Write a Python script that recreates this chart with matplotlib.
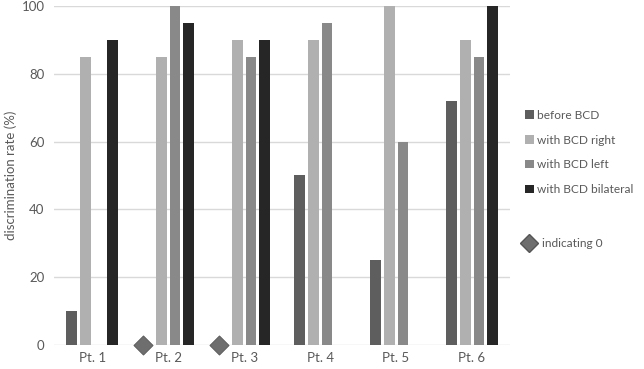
import matplotlib
matplotlib.use("Agg")
import matplotlib.pyplot as plt
from matplotlib.lines import Line2D
from matplotlib.patches import Patch
import numpy as np

plt.rcParams["font.family"] = ["Lato", "DejaVu Sans"]

patients = ["Pt. 1", "Pt. 2", "Pt. 3", "Pt. 4", "Pt. 5", "Pt. 6"]
series_names = ["before BCD", "with BCD right", "with BCD left", "with BCD bilateral"]
before = [10, 0, 0, 50, 25, 72]
right = [85, 85, 90, 90, 100, 90]
left = [np.nan, 100, 85, 95, 60, 85]
bilateral = [90, 95, 90, np.nan, np.nan, 100]
zero_flags = [False, True, True, False, False, False]  # before BCD measured as 0

colors = ["#5e5e5e", "#b0b0b0", "#898989", "#262626"]
text_color = "#595959"

fig = plt.figure(figsize=(6.44, 3.69), dpi=100)
ax = fig.add_axes([0.084, 0.065, 0.708, 0.919])

x = np.arange(len(patients))
slot = 0.18
width = 0.14
for i, (vals, c) in enumerate(zip([before, right, left, bilateral], colors)):
    vals = np.array(vals, dtype=float)
    shown = np.where(np.array(zero_flags) & (i == 0), np.nan, vals)
    ax.bar(x + (i - 1.5) * slot, shown, width=width, color=c, zorder=3)

zx = x[np.array(zero_flags)] + (-1.5 * slot - 0.06)
ax.scatter(zx, np.zeros(len(zx)), marker="D", s=95, color="#6e6e6e",
           edgecolors="#555555", linewidths=0.6, zorder=4, clip_on=False)

ax.set_xlim(-0.5, len(patients) - 0.5)
ax.set_ylim(0, 100)
ax.set_yticks([0, 20, 40, 60, 80, 100])
ax.set_xticks(x)
ax.set_xticklabels(patients)
ax.yaxis.grid(True, color="#d9d9d9", linewidth=1, zorder=0)
ax.set_axisbelow(True)
for s in ax.spines.values():
    s.set_visible(False)
ax.tick_params(axis="both", length=0, colors=text_color, labelsize=9.5)
ax.tick_params(axis="x", pad=5)
ax.tick_params(axis="y", pad=7)
ax.set_ylabel("discrimination rate (%)", color=text_color, fontsize=9.5, labelpad=3)

handles = [Patch(facecolor=c, edgecolor="none") for c in colors]
leg1 = fig.legend(handles, series_names, loc="upper left", bbox_to_anchor=(0.81, 0.712),
                  frameon=False, fontsize=8.6, handlelength=0.7, handleheight=0.7,
                  handletextpad=0.3, labelspacing=1.15, labelcolor=text_color,
                  borderaxespad=0, borderpad=0.3)
leg2 = fig.legend([Line2D([], [], marker="D", linestyle="none", markersize=9,
                          color="#6e6e6e", markeredgecolor="#555555")],
                  ["indicating 0"], loc="upper left", bbox_to_anchor=(0.808, 0.365),
                  frameon=False, fontsize=8.6, handlelength=0.9,
                  handletextpad=0.6, labelcolor=text_color,
                  borderaxespad=0, borderpad=0.3)

fig.savefig("out.png", dpi=100)
